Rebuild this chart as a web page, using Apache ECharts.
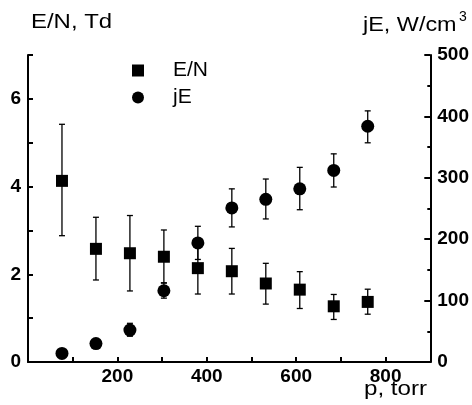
<!DOCTYPE html>
<html><head><meta charset="utf-8">
<script src="https://cdn.jsdelivr.net/npm/echarts@6/dist/echarts.min.js"></script>
<style>html,body{margin:0;padding:0;background:#fff}#c{width:472px;height:405px}</style>
</head><body><div id="c"></div>
<script>
// pressure, torr
const pressure = [76, 152, 228, 304, 380, 456, 532, 608, 684, 760];
// E/N, Td (left axis)
const enValues = [4.13, 2.58, 2.48, 2.40, 2.14, 2.07, 1.79, 1.65, 1.27, 1.37];
const enLow    = [2.88, 1.87, 1.62, 1.80, 1.55, 1.55, 1.32, 1.22, 0.97, 1.09];
const enHigh   = [5.42, 3.30, 3.34, 3.01, 2.75, 2.59, 2.25, 2.06, 1.54, 1.66];
// jE, W/cm3 (right axis)
const jeValues = [14, 30, 52, 116, 194, 251, 265, 282, 312, 384];
const jeLow    = [10, 25, 42, 104, 167, 220, 233, 248, 285, 357];
const jeHigh   = [18, 36, 63, 129, 221, 282, 298, 317, 339, 409];
// tick labels
const xTickLabels = [200, 400, 600, 800];
const leftTickLabels = [0, 2, 4, 6];

const FONT = 'Liberation Sans, Arial, sans-serif';
const chart = echarts.init(document.getElementById('c'));

function errorSeries(name, yIdx, lo, hi) {
  return {
    type: 'custom', name: name, xAxisIndex: 0, yAxisIndex: yIdx, z: 1,
    silent: true,
    data: pressure.map((p, i) => [p, lo[i], hi[i]]),
    renderItem: function (params, api) {
      const a = api.coord([api.value(0), api.value(1)]);
      const b = api.coord([api.value(0), api.value(2)]);
      const hw = 3;
      const st = { stroke: '#000', lineWidth: 1.3 };
      return { type: 'group', children: [
        { type: 'line', shape: { x1: a[0], y1: a[1], x2: b[0], y2: b[1] }, style: st },
        { type: 'line', shape: { x1: a[0] - hw, y1: a[1], x2: a[0] + hw, y2: a[1] }, style: st },
        { type: 'line', shape: { x1: b[0] - hw, y1: b[1], x2: b[0] + hw, y2: b[1] }, style: st }
      ]};
    }
  };
}

function line() { return { show: true, lineStyle: { color: '#000', width: 2 } }; }
function tick(len) { return { show: true, inside: true, length: len, lineStyle: { color: '#000', width: 2 } }; }
function label(extra) {
  return Object.assign({ fontFamily: FONT, fontWeight: 'bold', fontSize: 19, color: '#000' }, extra);
}

chart.setOption({
  backgroundColor: '#fff',
  animation: false,
  grid: { left: 28, right: 41, top: 55, bottom: 43 },
  legend: {
    orient: 'vertical', left: 127, top: 55, itemWidth: 12, itemHeight: 12, itemGap: 6,
    textStyle: { fontFamily: FONT, fontSize: 21, color: '#000', padding: [0, 0, 0, 24] },
    data: [{ name: 'E/N', icon: 'rect' }, { name: 'jE', icon: 'circle' }]
  },
  xAxis: [
    { type: 'value', min: 0, max: 900, interval: 100, position: 'bottom', axisLine: line(),
      axisTick: tick(5),
      axisLabel: label({ customValues: xTickLabels, margin: 5 }),
      splitLine: { show: false } }
  ],
  yAxis: [
    { type: 'value', min: 0, max: 7, interval: 1, position: 'left', axisLine: line(),
      axisTick: tick(5),
      axisLabel: label({ customValues: leftTickLabels, margin: 7 }),
      splitLine: { show: false } },
    { type: 'value', min: 0, max: 500, interval: 100, position: 'right', axisLine: line(),
      axisTick: tick(6),
      minorTick: { show: true, splitNumber: 2, length: 3, lineStyle: { color: '#000', width: 2 } },
      axisLabel: label({ margin: 7 }),
      splitLine: { show: false } }
  ],
  series: [
    errorSeries('enErr', 0, enLow, enHigh),
    errorSeries('jeErr', 1, jeLow, jeHigh),
    { type: 'scatter', name: 'E/N', xAxisIndex: 0, yAxisIndex: 0, symbol: 'rect', symbolSize: 12, z: 3,
      itemStyle: { color: '#000', opacity: 1 }, data: pressure.map((p, i) => [p, enValues[i]]) },
    { type: 'scatter', name: 'jE', xAxisIndex: 0, yAxisIndex: 1, symbol: 'circle', symbolSize: 13, z: 3,
      itemStyle: { color: '#000', opacity: 1 }, data: pressure.map((p, i) => [p, jeValues[i]]) }
  ],
  graphic: [
    { type: 'text', left: 31, top: 12, scaleX: 1.14, style: { text: 'E/N, Td', font: '21px ' + FONT, fill: '#000' } },
    { type: 'text', left: 363, top: 15, scaleX: 1.17, style: { text: 'jE, W/cm', font: '20px ' + FONT, fill: '#000' } },
    { type: 'text', left: 459, top: 10, style: { text: '3', font: '14px ' + FONT, fill: '#000' } },
    { type: 'text', left: 364, top: 379, scaleX: 1.15, style: { text: 'p, torr', font: '21px ' + FONT, fill: '#000' } }
  ]
});
</script></body></html>
